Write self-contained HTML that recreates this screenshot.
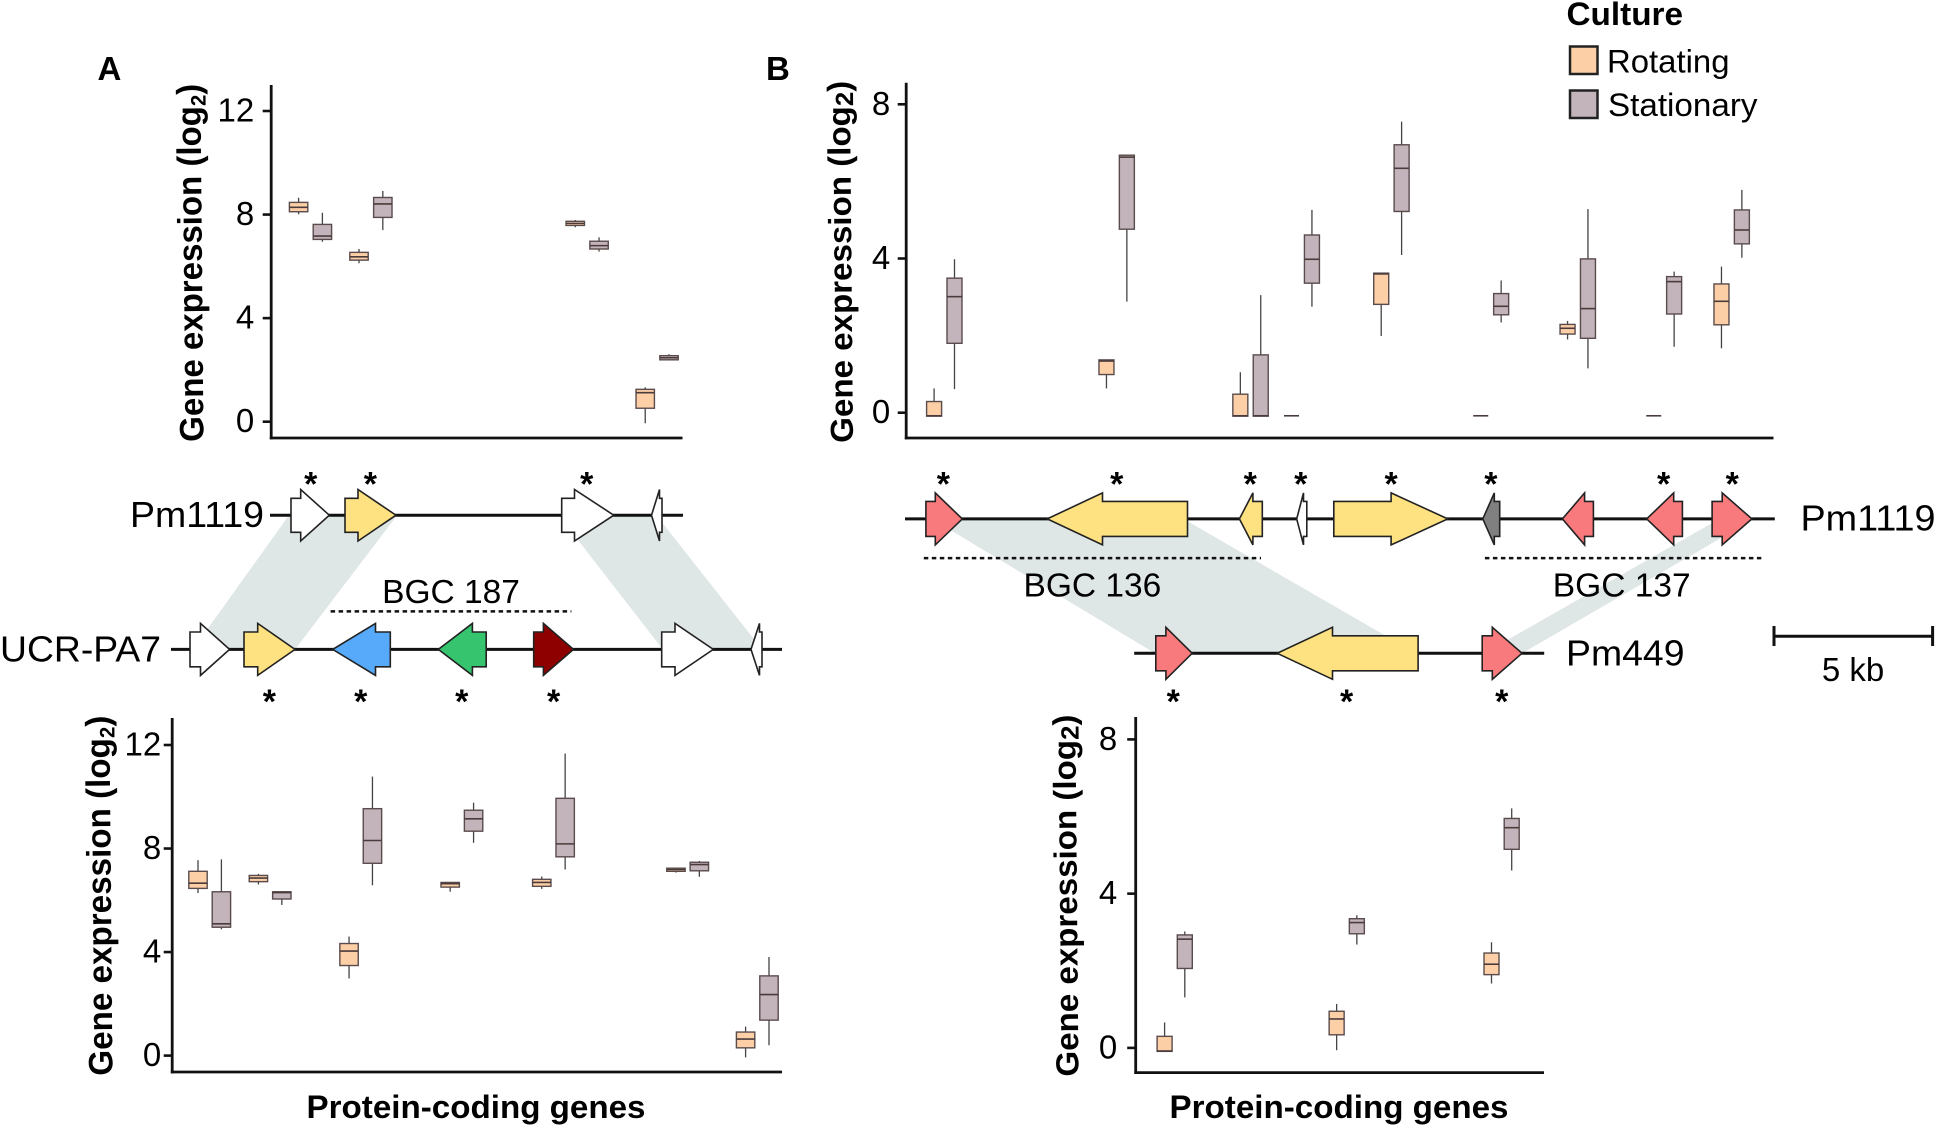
<!DOCTYPE html>
<html lang="en">
<head>
<meta charset="utf-8">
<title>Gene expression in biosynthetic gene clusters</title>
<style>
html,body{margin:0;padding:0;background:#fff;width:1937px;height:1129px;overflow:hidden}
svg{display:block;font-family:"Liberation Sans",sans-serif}
.star{font-size:34px;font-weight:bold;text-anchor:middle;fill:#000}
.lab{font-size:36px;fill:#000}
.bgc{font-size:33.5px;fill:#000;text-anchor:middle}
.ln{stroke:#111;stroke-width:3}
.dash{stroke:#111;stroke-width:2.5;stroke-dasharray:4.5 3.5}
.g{stroke:#222;stroke-width:1.6;stroke-linejoin:miter}
</style>
</head>
<body>
<svg id="fig" xmlns="http://www.w3.org/2000/svg" width="1937" height="1129" viewBox="0 0 1937 1129">
<rect x="0" y="0" width="1937" height="1129" fill="#fff"/>

<text x="97.5" y="80" font-size="33" font-weight="bold">A</text>
<text x="766" y="80" font-size="33" font-weight="bold">B</text>

<g fill="#dfe6e6">
<polygon points="288.8,515.5 397,515.5 295,649.4 192.9,649.4"/>
<polygon points="559,515.5 656.6,515.5 762,649.4 662.8,649.4"/>
<polygon points="931.9,518.9 1183.4,518.9 1416,653.3 1155.1,653.3"/>
<polygon points="1719.5,518.9 1754,518.9 1522,653.3 1484,653.3"/>
</g>

<g>
<line class="ln" x1="270" y1="515.2" x2="683" y2="515.2"/>
<polygon class="g" fill="#fff" points="291,498.3 300.7,498.3 300.7,489.5 329.3,515.2 300.7,541 300.7,532.3 291,532.3"/>
<polygon class="g" fill="#fee281" points="345,498.3 358,498.3 358,489.5 396,515.2 358,541 358,532.3 345,532.3"/>
<polygon class="g" fill="#fff" points="561.7,498.3 574.5,498.3 574.5,489.5 613.8,515.2 574.5,541 574.5,532.3 561.7,532.3"/>
<polygon class="g" fill="#fff" points="662,498.3 659.5,498.3 659.5,489.5 651.5,515.2 659.5,541 659.5,532.3 662,532.3"/>
<text class="lab" x="130" y="527" textLength="134" lengthAdjust="spacingAndGlyphs">Pm1119</text>
</g>

<g>
<line class="ln" x1="171" y1="649.4" x2="782" y2="649.4"/>
<polygon class="g" fill="#fff" points="190,632 200.5,632 200.5,623.4 229.6,649.4 200.5,675.4 200.5,666.8 190,666.8"/>
<polygon class="g" fill="#fee281" points="244,632 257.7,632 257.7,623.4 295,649.4 257.7,675.4 257.7,666.8 244,666.8"/>
<polygon class="g" fill="#57a9f9" points="390.3,632 375.5,632 375.5,623.4 332.7,649.4 375.5,675.4 375.5,666.8 390.3,666.8"/>
<polygon class="g" fill="#36c46e" points="486.2,632 472.4,632 472.4,623.4 438.3,649.4 472.4,675.4 472.4,666.8 486.2,666.8"/>
<polygon class="g" fill="#8e0000" points="533.7,632 543.4,632 543.4,623.4 573.5,649.4 543.4,675.4 543.4,666.8 533.7,666.8"/>
<polygon class="g" fill="#fff" points="661.7,632 675,632 675,623.4 713.3,649.4 675,675.4 675,666.8 661.7,666.8"/>
<polygon class="g" fill="#fff" points="762,632 759.5,632 759.5,623.4 751,649.4 759.5,675.4 759.5,666.8 762,666.8"/>
<text class="lab" x="0" y="661.4" textLength="161" lengthAdjust="spacingAndGlyphs">UCR-PA7</text>
</g>

<g>
<line class="ln" x1="905" y1="518.9" x2="1774.8" y2="518.9"/>
<polygon class="g" fill="#f97a7c" points="925.9,501.4 935.3,501.4 935.3,492.9 962.3,518.9 935.3,544.9 935.3,536.4 925.9,536.4"/>
<polygon class="g" fill="#fee281" points="1187.5,501.4 1102.5,501.4 1102.5,492.9 1047.2,518.9 1102.5,544.9 1102.5,536.4 1187.5,536.4"/>
<polygon class="g" fill="#fee281" points="1262.3,501.4 1252.9,501.4 1252.9,492.9 1239.4,518.9 1252.9,544.9 1252.9,536.4 1262.3,536.4"/>
<polygon class="g" fill="#fff" points="1306.8,501.4 1303.5,501.4 1303.5,492.9 1296.7,518.9 1303.5,544.9 1303.5,536.4 1306.8,536.4"/>
<polygon class="g" fill="#fee281" points="1333.8,501.4 1391.1,501.4 1391.1,492.9 1447.8,518.9 1391.1,544.9 1391.1,536.4 1333.8,536.4"/>
<polygon class="g" fill="#808080" points="1499.7,501.4 1494.3,501.4 1494.3,492.9 1482.8,518.9 1494.3,544.9 1494.3,536.4 1499.7,536.4"/>
<polygon class="g" fill="#f97a7c" points="1593.4,501.4 1584.6,501.4 1584.6,492.9 1562.4,518.9 1584.6,544.9 1584.6,536.4 1593.4,536.4"/>
<polygon class="g" fill="#f97a7c" points="1682.4,501.4 1673.7,501.4 1673.7,492.9 1646.7,518.9 1673.7,544.9 1673.7,536.4 1682.4,536.4"/>
<polygon class="g" fill="#f97a7c" points="1712.1,501.4 1722.2,501.4 1722.2,492.9 1751.9,518.9 1722.2,544.9 1722.2,536.4 1712.1,536.4"/>
<text class="lab" x="1800.5" y="530.4" textLength="135" lengthAdjust="spacingAndGlyphs">Pm1119</text>
</g>

<g>
<line class="ln" x1="1134.2" y1="653.3" x2="1544.2" y2="653.3"/>
<polygon class="g" fill="#f97a7c" points="1155.8,635.8 1165.9,635.8 1165.9,627.3 1192.2,653.3 1165.9,679.3 1165.9,670.8 1155.8,670.8"/>
<polygon class="g" fill="#fee281" points="1418.1,635.8 1332.5,635.8 1332.5,627.3 1277.2,653.3 1332.5,679.3 1332.5,670.8 1418.1,670.8"/>
<polygon class="g" fill="#f97a7c" points="1482.2,635.8 1492.3,635.8 1492.3,627.3 1522,653.3 1492.3,679.3 1492.3,670.8 1482.2,670.8"/>
<text class="lab" x="1566" y="665.6" textLength="118.5" lengthAdjust="spacingAndGlyphs">Pm449</text>
</g>

<g>
<line class="dash" x1="330.6" y1="611.4" x2="571.4" y2="611.4"/>
<text class="bgc" x="451" y="603">BGC 187</text>
<line class="dash" x1="923.8" y1="558.1" x2="1261" y2="558.1"/>
<text class="bgc" x="1092.4" y="596.5">BGC 136</text>
<line class="dash" x1="1484.9" y1="558.1" x2="1761.3" y2="558.1"/>
<text class="bgc" x="1621.7" y="596.5">BGC 137</text>
</g>

<g>
<text class="star" x="310.7" y="495.7">*</text>
<text class="star" x="370.4" y="495.7">*</text>
<text class="star" x="586.7" y="495.7">*</text>
<text class="star" x="269.4" y="712.8">*</text>
<text class="star" x="360.7" y="712.8">*</text>
<text class="star" x="461.7" y="712.8">*</text>
<text class="star" x="553.6" y="712.8">*</text>
<text class="star" x="943.4" y="495.7">*</text>
<text class="star" x="1116.7" y="495.7">*</text>
<text class="star" x="1250.2" y="495.7">*</text>
<text class="star" x="1300.8" y="495.7">*</text>
<text class="star" x="1391.1" y="495.7">*</text>
<text class="star" x="1490.9" y="495.7">*</text>
<text class="star" x="1663.6" y="495.7">*</text>
<text class="star" x="1732.3" y="495.7">*</text>
<text class="star" x="1173.3" y="712.8">*</text>
<text class="star" x="1346.6" y="712.8">*</text>
<text class="star" x="1501.7" y="712.8">*</text>
</g>

<g>
<line class="ln" x1="1774" y1="636.2" x2="1932.6" y2="636.2"/>
<line class="ln" x1="1774" y1="626" x2="1774" y2="646"/>
<line class="ln" x1="1932.6" y1="626" x2="1932.6" y2="646"/>
<text x="1853" y="681" font-size="33" text-anchor="middle">5 kb</text>
</g>

<g>
<text x="1566.5" y="25" font-size="32" font-weight="bold" textLength="116.5" lengthAdjust="spacingAndGlyphs">Culture</text>
<rect x="1570" y="46.5" width="27.5" height="27.5" fill="#fdcfa7" stroke="#222" stroke-width="2.5"/>
<text x="1607" y="72.5" font-size="32.5" textLength="122.5" lengthAdjust="spacingAndGlyphs">Rotating</text>
<rect x="1570" y="90.5" width="27.5" height="27.5" fill="#c3b3ba" stroke="#222" stroke-width="2.5"/>
<text x="1608" y="116" font-size="32.5" textLength="149.5" lengthAdjust="spacingAndGlyphs">Stationary</text>
</g>
</svg>

<script>
// Panel A, top (Pm1119) — each box is [low whisker, Q1, median, Q3, high whisker]
var aTopGeneKb = [0, 1.9, 8.7, 10.9];
var aTopTicks = [0, 4, 8, 12];
var aTopRotating = [
  [8.01, 8.11, 8.28, 8.47, 8.65],
  [6.12, 6.24, 6.37, 6.54, 6.67],
  [7.51, 7.58, 7.66, 7.74, 7.79],
  [-0.06, 0.52, 1.12, 1.25, 1.33]
];
var aTopStationary = [
  [6.95, 7.04, 7.17, 7.62, 8.07],
  [7.40, 7.89, 8.41, 8.66, 8.91],
  [6.57, 6.67, 6.80, 6.97, 7.12],
  [2.38, 2.39, 2.47, 2.55, 2.61]
];

// Panel A, bottom (UCR-PA7)
var aBottomGeneKb = [0, 1.90, 4.75, 7.93, 10.81, 15.03, 17.22];
var aBottomTicks = [0, 4, 8, 12];
var aBottomRotating = [
  [6.28, 6.46, 6.66, 7.12, 7.55],
  [6.61, 6.72, 6.86, 6.96, 7.02],
  [2.98, 3.48, 4.04, 4.33, 4.60],
  [6.33, 6.51, 6.64, 6.69, 6.69],
  [6.44, 6.54, 6.69, 6.81, 6.92],
  [7.07, 7.12, 7.19, 7.24, 7.24],
  [-0.07, 0.30, 0.64, 0.91, 1.12]
];
var aBottomStationary = [
  [4.88, 4.96, 5.09, 6.33, 7.58],
  [5.82, 6.05, 6.30, 6.33, 6.36],
  [6.58, 7.43, 8.31, 9.54, 10.78],
  [8.22, 8.67, 9.15, 9.48, 9.77],
  [7.19, 7.68, 8.18, 9.94, 11.67],
  [6.91, 7.14, 7.38, 7.47, 7.52],
  [0.40, 1.37, 2.36, 3.08, 3.81]
];

// Panel B, top (Pm1119)
var bTopGeneKb = [0, 5.42, 9.63, 11.24, 14.06, 17.19, 19.92, 22.63, 24.76];
var bTopTicks = [0, 4, 8];
var bTopRotating = [
  [-0.09, -0.09, -0.08, 0.29, 0.63],
  [0.63, 0.99, 1.34, 1.37, 1.37],
  [-0.09, -0.09, -0.08, 0.48, 1.05],
  [-0.08, -0.08, -0.08, -0.08, -0.08],
  [1.99, 2.81, 3.60, 3.62, 3.62],
  [-0.08, -0.08, -0.08, -0.08, -0.08],
  [1.90, 2.04, 2.19, 2.29, 2.38],
  [-0.08, -0.08, -0.08, -0.08, -0.08],
  [1.67, 2.28, 2.89, 3.34, 3.79]
];
var bTopStationary = [
  [0.61, 1.80, 3.01, 3.49, 3.98],
  [2.88, 4.76, 6.63, 6.68, 6.69],
  [-0.09, -0.09, -0.08, 1.50, 3.05],
  [2.75, 3.36, 3.98, 4.61, 5.26],
  [4.09, 5.22, 6.34, 6.95, 7.55],
  [2.34, 2.54, 2.76, 3.09, 3.43],
  [1.15, 1.93, 2.70, 3.99, 5.28],
  [1.71, 2.56, 3.40, 3.53, 3.66],
  [4.02, 4.38, 4.74, 5.26, 5.78]
];

// Panel B, bottom (Pm449)
var bBottomGeneKb = [0, 5.41, 10.28];
var bBottomTicks = [0, 4, 8];
var bBottomRotating = [
  [-0.09, -0.09, -0.08, 0.30, 0.66],
  [-0.06, 0.34, 0.75, 0.95, 1.14],
  [1.67, 1.90, 2.17, 2.46, 2.74]
];
var bBottomStationary = [
  [1.31, 2.06, 2.82, 2.93, 3.02],
  [2.68, 2.96, 3.25, 3.35, 3.44],
  [4.60, 5.15, 5.71, 5.95, 6.21]
];

var NS = 'http://www.w3.org/2000/svg';
var fig = document.getElementById('fig');
var ROT = '#fdcfa7';
var STAT = '#c3b3ba';

function mk(parent, tag, attrs) {
  var el = document.createElementNS(NS, tag);
  for (var k in attrs) el.setAttribute(k, attrs[k]);
  parent.appendChild(el);
  return el;
}

function drawBox(parent, cx, w, y, v, fill, series) {
  var g = mk(parent, 'g', {});
  
  
  var wh = mk(g, 'line', {x1: cx, x2: cx, y1: y(v[4]), y2: y(v[0]), stroke: '#444', 'stroke-width': 1.3});
  
  
  var r = mk(g, 'rect', {x: cx - w / 2, y: y(v[3]), width: w, height: Math.max(0, y(v[1]) - y(v[3])), fill: fill, stroke: '#5a4c4c', 'stroke-width': 1.4});
  
  
  var m = mk(g, 'line', {x1: cx - w / 2, x2: cx + w / 2, y1: y(v[2]), y2: y(v[2]), stroke: '#4a3c3c', 'stroke-width': 1.6});
  
  
}

function drawPanel(p, kb, ticks, rot, stat) {
  var g = mk(fig, 'g', {});
  
  
  function y(v) { return p.y0 + (p.y1 - p.y0) * v / p.v1; }
  function x(k) { return p.x0 + k * p.pxPerKb; }

  var yAxis = mk(g, 'line', {x1: p.ax, x2: p.ax, y1: p.top, y2: p.bottom + 1.4, stroke: '#111', 'stroke-width': 2.8});
  
  
  var xAxis = mk(g, 'line', {x1: p.ax - 1.4, x2: p.right, y1: p.bottom, y2: p.bottom, stroke: '#111', 'stroke-width': 2.8});
  
  

  ticks.forEach(function (t) {
    var tm = mk(g, 'line', {x1: p.ax - 8.5, x2: p.ax, y1: y(t), y2: y(t), stroke: '#111', 'stroke-width': 2.6});
    
    
    var lb = mk(g, 'text', {x: p.ax - p.labelGap, y: y(t) + 10.5, 'font-size': 33, 'text-anchor': 'end'});
    
    
    lb.textContent = String(t);
  });

  kb.forEach(function (k, i) {
    drawBox(g, x(k) - p.off, p.bw, y, rot[i], ROT, 'rotating');
    drawBox(g, x(k) + p.off, p.bw, y, stat[i], STAT, 'stationary');
  });

  var title = mk(g, 'text', {
    transform: 'translate(' + p.titleX + ',' + p.titleB + ') rotate(-90.5)',
    'font-size': p.titleFont, 'font-weight': 'bold',
    textLength: p.titleLen, lengthAdjust: 'spacingAndGlyphs'
  });
  
  
  title.appendChild(document.createTextNode('Gene expression (log'));
  var sub = mk(title, 'tspan', {'font-size': p.subFont, dy: p.subDy});
  sub.textContent = '2';
  var close = mk(title, 'tspan', {dy: -p.subDy});
  close.textContent = ')';

  if (p.xTitleX) {
    var xt = mk(g, 'text', {x: p.xTitleX, y: 1118, 'font-size': 32, 'font-weight': 'bold', textLength: 339, lengthAdjust: 'spacingAndGlyphs'});
    
    
    xt.textContent = 'Protein-coding genes';
  }
}

drawPanel({name: 'chart-a-top', ax: 271.2, top: 85, bottom: 438, right: 682.5, y0: 421.7, y1: 111, v1: 12, labelGap: 17,
  x0: 310.5, pxPerKb: 31.8, off: 11.9, bw: 18.4, titleX: 203.5, titleB: 441.7, titleLen: 358, titleFont: 34, subFont: 21, subDy: 5},
  aTopGeneKb, aTopTicks, aTopRotating, aTopStationary);

drawPanel({name: 'chart-a-bottom', ax: 172.2, top: 718, bottom: 1072, right: 782, y0: 1055.6, y1: 745, v1: 12, labelGap: 11,
  x0: 209.7, pxPerKb: 31.8, off: 11.7, bw: 18.4, titleX: 112.5, titleB: 1075.6, titleLen: 360, titleFont: 34, subFont: 21, subDy: 5, xTitleX: 306.5},
  aBottomGeneKb, aBottomTicks, aBottomRotating, aBottomStationary);

drawPanel({name: 'chart-b-top', ax: 906.2, top: 82.7, bottom: 438, right: 1773.5, y0: 412.7, y1: 104.3, v1: 8, labelGap: 16,
  x0: 944.3, pxPerKb: 31.8, off: 10.2, bw: 15, titleX: 853, titleB: 442.7, titleLen: 362, titleFont: 32, subFont: 25, subDy: 3},
  bTopGeneKb, bTopTicks, bTopRotating, bTopStationary);

drawPanel({name: 'chart-b-bottom', ax: 1135.7, top: 717, bottom: 1072.6, right: 1544, y0: 1047.9, y1: 739.4, v1: 8, labelGap: 18.5,
  x0: 1174.7, pxPerKb: 31.8, off: 10.1, bw: 15, titleX: 1078.5, titleB: 1076.5, titleLen: 362, titleFont: 32, subFont: 25, subDy: 3, xTitleX: 1169.5},
  bBottomGeneKb, bBottomTicks, bBottomRotating, bBottomStationary);
</script>
</body>
</html>
